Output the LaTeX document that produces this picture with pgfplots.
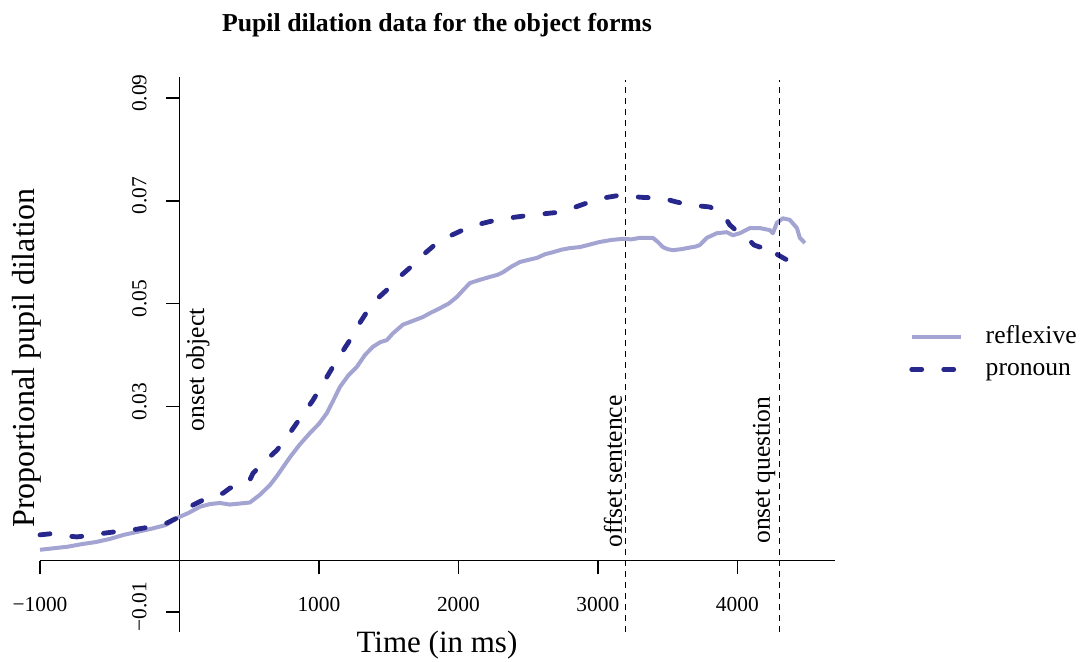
\documentclass[border=0pt]{standalone}
\usepackage{fontspec}
\setmainfont{Liberation Serif}
\usepackage{pgfplots}
\pgfplotsset{compat=1.18}
\definecolor{refl}{RGB}{164,164,210}
\definecolor{pron}{RGB}{40,40,140}
\begin{document}
\begin{tikzpicture}
\useasboundingbox (0,0) rectangle (542pt,331pt);
\begin{axis}[
  at={(20pt,15pt)}, anchor=south west,
  scale only axis, width=397.5pt, height=277.5pt,
  xmin=-1000, xmax=4700, ymin=-0.0139, ymax=0.0941,
  axis lines=middle, axis line style={-, line width=0.8pt, black},
  tick align=outside, major tick length=6.5pt,
  tick style={line width=0.8pt, black},
  scaled ticks=false,
  xtick={-1000,1000,2000,3000,4000},
  xticklabels={−1000,1000,2000,3000,4000},
  ytick={-0.01,0.03,0.05,0.07,0.09},
  yticklabels={−0.01,0.03,0.05,0.07,0.09},
  ticklabel style={font=\fontsize{10.7}{12}\selectfont},
  xticklabel style={anchor=base, yshift=-19pt},
  yticklabel style={rotate=90, anchor=base, yshift=10pt, xshift=2.5pt},
  clip=false,
  legend style={at={(axis description cs:1.093,0.502)}, anchor=west,
    draw=none, fill=none, inner sep=0pt, row sep=0pt,
    font=\fontsize{12.8}{15}\selectfont,
    nodes={text height=9pt, text depth=3pt},
    /tikz/every odd column/.style={column sep=9pt}},
  legend cell align=left,
  legend image code/.code={\draw[#1] (1.2pt,0pt) -- (26pt,0pt);},
]
\addplot[refl, line width=2pt, line join=round] coordinates {
(-1000,0.0021) (-900,0.0024) (-800,0.0027) (-700,0.0032) (-600,0.0036)
(-500,0.0042) (-400,0.0050) (-300,0.0056) (-200,0.0062) (-100,0.0069)
(0,0.0085) (60,0.0092) (150,0.0105) (220,0.0110) (290,0.0112) (360,0.0109)
(434,0.0111) (505,0.0113) (577,0.0128) (649,0.0147) (700,0.0165) (792,0.0201)
(860,0.0225) (935,0.0248) (1000,0.0266) (1057,0.0287) (1100,0.0310)
(1151,0.0338) (1210,0.0360) (1272,0.0377) (1330,0.0400) (1387,0.0416)
(1440,0.0425) (1487,0.0429) (1530,0.0442) (1602,0.0459) (1660,0.0465)
(1746,0.0474) (1800,0.0482) (1867,0.0491) (1930,0.0500) (1989,0.0513)
(2040,0.0528) (2082,0.0540) (2150,0.0546) (2226,0.0552) (2280,0.0556)
(2319,0.0561) (2380,0.0572) (2441,0.0581) (2500,0.0585) (2563,0.0589)
(2620,0.0596) (2677,0.0600) (2740,0.0605) (2799,0.0608) (2871,0.0610)
(2943,0.0615) (3014,0.0620) (3100,0.0624) (3179,0.0626) (3240,0.0625)
(3301,0.0628) (3394,0.0628) (3430,0.0620) (3466,0.0610) (3500,0.0606)
(3538,0.0604) (3600,0.0606) (3638,0.0608) (3700,0.0611) (3731,0.0614)
(3781,0.0628) (3853,0.0637) (3925,0.0639) (3968,0.0633) (4018,0.0637)
(4090,0.0647) (4161,0.0647) (4233,0.0643) (4255,0.0637) (4283,0.0657)
(4326,0.0666) (4376,0.0663) (4427,0.0647) (4448,0.0628) (4484,0.0618)
};
\addlegendentry{reflexive}
\addplot[pron, line width=2.4pt, line cap=round, line join=round, dash pattern=on 5pt off 11pt] coordinates {
(-1000,0.0050) (-929,0.0052) (-850,0.0049) (-735,0.0046) (-620,0.0050)
(-520,0.0054) (-400,0.0058) (-305,0.0061) (-200,0.0066) (-90,0.0073)
(-47,0.0079) (0,0.0085) (97,0.0108) (200,0.0122) (312,0.0131) (362,0.0141)
(430,0.0149) (505,0.0157) (527,0.0170) (600,0.0190) (699,0.0215)
(770,0.0240) (842,0.0268) (900,0.0290) (957,0.0312) (1030,0.0345)
(1100,0.0377) (1160,0.0403) (1222,0.0429) (1280,0.0457) (1344,0.0484)
(1420,0.0510) (1509,0.0532) (1590,0.0555) (1674,0.0575) (1760,0.0598)
(1846,0.0618) (1950,0.0633) (2061,0.0647) (2170,0.0656) (2276,0.0663)
(2400,0.0668) (2513,0.0672) (2620,0.0675) (2728,0.0678) (2840,0.0688)
(2943,0.0698) (3050,0.0706) (3158,0.0711) (3230,0.0710) (3301,0.0707)
(3380,0.0706) (3466,0.0705) (3560,0.0698) (3659,0.0692) (3730,0.0690)
(3803,0.0688) (3850,0.0682) (3896,0.0672) (3930,0.0660) (3946,0.0653)
(3980,0.0645) (4018,0.0639) (4040,0.0633) (4080,0.0625) (4120,0.0614)
(4161,0.0610) (4197,0.0616) (4240,0.0605) (4290,0.0595) (4355,0.0585)
(4398,0.0579) (4462,0.0569) (4484,0.0572)
};
\addlegendentry{pronoun}
\addplot[black, line width=0.6pt, dash pattern=on 3pt off 2.5pt, forget plot] coordinates {(3200,-0.0139) (3200,0.0935)};
\addplot[black, line width=0.6pt, dash pattern=on 3pt off 2.5pt, forget plot] coordinates {(4300,-0.0139) (4300,0.0935)};
\node[rotate=90, anchor=base, font=\fontsize{12.8}{15}\selectfont] at (axis cs:176,0.0371) {onset object};
\node[rotate=90, anchor=base, font=\fontsize{12.8}{15}\selectfont] at (axis cs:3172,0.01733) {offset sentence};
\node[rotate=90, anchor=base, font=\fontsize{12.8}{15}\selectfont] at (axis cs:4233,0.0176) {onset question};
\end{axis}
\node[anchor=base, font=\fontsize{12.9}{15}\selectfont\bfseries] at (218.5pt,315pt) {Pupil dilation data for the object forms};
\node[anchor=base, font=\fontsize{15.5}{18}\selectfont] at (218.5pt,4.5pt) {Time (in ms)};
\node[anchor=base, rotate=90, font=\fontsize{16}{19}\selectfont] at (17.5pt,152pt) {Proportional pupil dilation};
\end{tikzpicture}
\end{document}
